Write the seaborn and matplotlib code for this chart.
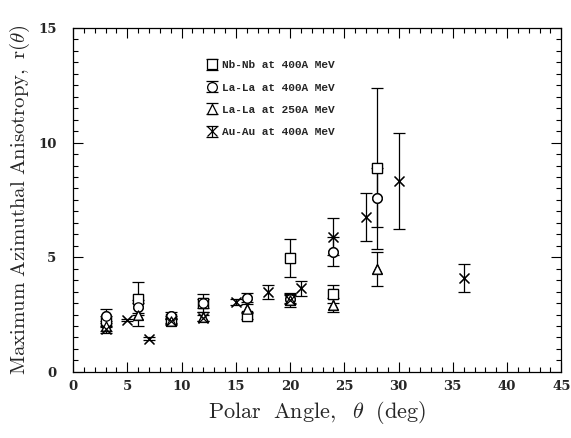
import numpy as np
import pandas as pd
import matplotlib
matplotlib.use("Agg")
import matplotlib.pyplot as plt
import seaborn as sns
from matplotlib.ticker import MultipleLocator

# ---- data ----
nb_x = [3, 6, 9, 12, 16, 20, 24, 28]
nb_y = [2.2, 3.2, 2.3, 3.0, 2.45, 4.96, 3.4, 8.88]
nb_e = [0.25, 0.7, 0.15, 0.4, 0.15, 0.83, 0.4, 3.5]

la4_x = [3, 6, 9, 12, 16, 20, 24, 28]
la4_y = [2.45, 2.85, 2.45, 3.0, 3.24, 3.2, 5.25, 7.6]
la4_e = [0.3, 0.3, 0.15, 0.2, 0.2, 0.2, 0.62, 1.3]

la2_x = [3, 6, 9, 12, 16, 20, 24, 28]
la2_y = [2.0, 2.5, 2.2, 2.4, 2.75, 3.15, 2.92, 4.48]
la2_e = [0.2, 0.5, 0.15, 0.2, 0.2, 0.3, 0.3, 0.75]

au_x = [3, 5, 7, 9, 12, 15, 18, 20, 21, 24, 27, 30, 36]
au_y = [1.85, 2.27, 1.45, 2.2, 2.35, 3.05, 3.5, 3.15, 3.65, 5.9, 6.75, 8.33, 4.1]
au_e = [0.15, 0.05, 0.05, 0.1, 0.15, 0.15, 0.3, 0.2, 0.33, 0.8, 1.05, 2.1, 0.6]

labels = ["Nb-Nb at 400A MeV", "La-La at 400A MeV", "La-La at 250A MeV", "Au-Au at 400A MeV"]
markers = ["s", "o", "^", "x"]

series = [(nb_x, nb_y, nb_e), (la4_x, la4_y, la4_e), (la2_x, la2_y, la2_e), (au_x, au_y, au_e)]

sns.set_theme(style="ticks")
plt.rcParams['font.family'] = ['DejaVu Serif']
plt.rcParams['mathtext.fontset'] = 'cm'

fig = plt.figure(figsize=(5.71, 4.38), dpi=100)
ax = fig.add_axes([0.128, 0.151, 0.855, 0.785])

handles = []
for (xs, ys, es), lab, m in zip(series, labels, markers):
    df = pd.DataFrame({"x": xs, "y": ys})
    h = ax.errorbar(xs, ys, yerr=es, fmt=m, color="black", mfc="white", mec="black",
                    ms=7, mew=0.9, elinewidth=0.9, capsize=4.5, capthick=0.9, label=lab,
                    zorder=2)
    handles.append(h)
    sns.scatterplot(data=df, x="x", y="y", marker=m, s=45,
                    color="white" if m != "x" else "black",
                    edgecolor="black", linewidth=0.9, ax=ax, zorder=3, legend=False)

ax.set_xlim(0, 45)
ax.set_ylim(0, 15)
ax.xaxis.set_major_locator(MultipleLocator(5))
ax.xaxis.set_minor_locator(MultipleLocator(1))
ax.yaxis.set_major_locator(MultipleLocator(5))
ax.yaxis.set_minor_locator(MultipleLocator(0.5))
ax.tick_params(which="both", direction="in", top=True, right=True, color="black", width=0.8)
ax.tick_params(which="major", length=7)
ax.tick_params(which="minor", length=3.5)
ax.tick_params(axis="x", which="major", pad=6)
ax.tick_params(axis="y", which="major", pad=12)
for lab in ax.get_xticklabels() + ax.get_yticklabels():
    lab.set_fontweight("bold")
    lab.set_fontsize(9.5)
for sp in ax.spines.values():
    sp.set_color("black")
    sp.set_linewidth(0.9)

ax.set_xlabel(r"$\mathrm{Polar\ \ Angle,}\ \ \theta\ \ \mathrm{(deg)}$", fontsize=16, labelpad=4)
ax.set_ylabel(r"$\mathrm{Maximum\ Azimuthal\ Anisotropy,\ r(}\theta\mathrm{)}$", fontsize=15, labelpad=4)

leg = ax.legend(handles=handles, labels=labels, loc="upper left", bbox_to_anchor=(0.255, 0.935),
                frameon=False, handlelength=0.8, handletextpad=0.5, labelspacing=1.1,
                prop={"family": "Liberation Mono", "weight": "bold", "size": 8})

fig.savefig("out.png", dpi=100)
